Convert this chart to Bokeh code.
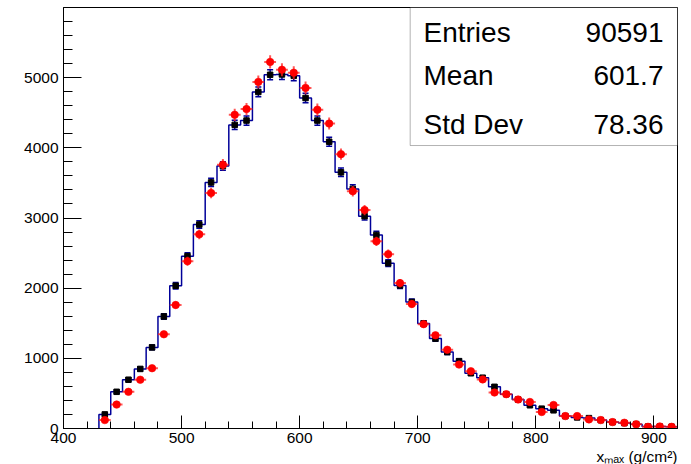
import numpy as np
from bokeh.plotting import figure
from bokeh.models import Range1d, FixedTicker, BoxAnnotation, Label, ColumnDataSource, Whisker, Title
from bokeh.embed import file_html
from bokeh.resources import INLINE

# ---------------- data ----------------
bin_low = 430
bin_width = 10
bin_centers = [435, 445, 455, 465, 475, 485, 495, 505, 515, 525, 535, 545, 555, 565, 575,
               585, 595, 605, 615, 625, 635, 645, 655, 665, 675, 685, 695, 705, 715, 725,
               735, 745, 755, 765, 775, 785, 795, 805, 815, 825, 835, 845, 855, 865, 875,
               885, 895, 905, 915]
hist_counts = [201, 523, 695, 849, 1156, 1597, 2034, 2456, 2907, 3507, 3741, 4327, 4389, 4796, 5041,
               5046, 5026, 4710, 4389, 4087, 3651, 3415, 3026, 2759, 2356, 2039, 1803, 1497, 1281, 1089,
               960, 787, 724, 594, 489, 413, 331, 283, 259, 177, 158, 148, 120, 91, 77,
               62, 27, 27, 25]
red_counts = [120, 341, 523, 695, 859, 1343, 1760, 2384, 2767, 3357, 3760, 4471, 4552, 4940, 5224,
              5113, 5070, 4854, 4543, 4346, 3910, 3382, 3113, 2667, 2485, 2072, 1774, 1487, 1328, 1122,
              911, 816, 700, 513, 489, 413, 378, 235, 335, 177, 177, 130, 120, 91, 82,
              60, 24, 29, 24]
x_ticks = [400, 500, 600, 700, 800, 900]
y_ticks = [0, 1000, 2000, 3000, 4000, 5000]
stats_names = ["Entries", "Mean", "Std Dev"]
stats_values = ["90591", "601.7", "78.36"]
x_title = "x\u2098\u2090\u2093 (g/cm\u00b2)"

FONT = "Liberation Sans"
BLUE = "#000099"

xc = np.array(bin_centers, dtype=float)
hc = np.array(hist_counts, dtype=float)
rc = np.array(red_counts, dtype=float)
he = np.sqrt(hc)
re_ = np.sqrt(rc)

p = figure(width=691, height=464, output_backend="svg", toolbar_location=None,
           x_range=Range1d(400, 920), y_range=Range1d(0, 6000),
           min_border_left=63, min_border_right=14, min_border_top=7, min_border_bottom=0)
p.background_fill_color = "white"
p.border_fill_color = "white"
p.outline_line_color = "black"
p.outline_line_width = 1
p.xgrid.visible = False
p.ygrid.visible = False

p.xaxis.ticker = FixedTicker(ticks=x_ticks, minor_ticks=list(range(400, 921, 20)))
p.yaxis.ticker = FixedTicker(ticks=y_ticks, minor_ticks=list(range(0, 6001, 200)))
for ax in (p.xaxis[0], p.yaxis[0]):
    ax.major_tick_out = 0
    ax.minor_tick_out = 0
    ax.axis_line_color = "black"
    ax.major_tick_line_color = "black"
    ax.minor_tick_line_color = "black"
    ax.major_label_text_font = FONT
    ax.major_label_text_font_size = "15.5px"
    ax.major_label_text_color = "black"
p.xaxis.major_tick_in = 13
p.xaxis.minor_tick_in = 7
p.yaxis.major_tick_in = 18
p.yaxis.minor_tick_in = 9
p.xaxis.major_label_standoff = 4
p.yaxis.major_label_standoff = 5

p.add_layout(Title(text=x_title, align="right", text_font=FONT, text_font_size="15.5px",
                   text_font_style="normal", text_color="black", standoff=0), "below")

# histogram outline
edges = list(bin_low + bin_width * np.arange(len(bin_centers) + 1))
step_x = [edges[0]] + edges
step_y = [0] + list(hc) + [hc[-1]]
p.step(step_x, step_y, mode="after", line_color=BLUE, line_width=1.5)

# black histogram errors
src_b = ColumnDataSource(dict(x=xc, y=hc, lo=hc - he, hi=hc + he))
wb = Whisker(source=src_b, base="x", lower="lo", upper="hi", line_color=BLUE, line_width=1.5)
wb.lower_head.size = 6
wb.upper_head.size = 6
wb.lower_head.line_color = BLUE
wb.upper_head.line_color = BLUE
wb.lower_head.line_width = 1.5
wb.upper_head.line_width = 1.5
p.add_layout(wb)
p.scatter(xc, hc, marker="square", size=5.5, fill_color="black", line_color="black")

# red points
src_r = ColumnDataSource(dict(x=xc, y=rc, lo=rc - re_ * 1.3, hi=rc + re_ * 1.3,
                              xl=xc - bin_width / 2, xh=xc + bin_width / 2))
p.segment(x0="x", y0="lo", x1="x", y1="hi", source=src_r, line_color="#ff2020", line_alpha=0.75, line_width=2)
p.segment(x0="xl", y0="y", x1="xh", y1="y", source=src_r, line_color="#ff2020", line_alpha=0.75, line_width=2)
p.scatter(xc, rc, marker="circle", size=7.5, fill_color="#ff0000", line_color="#ff0000", line_alpha=0.6)

# stats box
p.add_layout(BoxAnnotation(left=693.6, right=920, top=6000, bottom=4033, fill_color="white", fill_alpha=1.0,
                           line_color="black", line_width=1))
row_base = [5650, 5030, 4330]
for name, val, yb in zip(stats_names, stats_values, row_base):
    p.add_layout(Label(x=704.9, y=yb, text=name, text_font=FONT, text_font_size="28px",
                       text_baseline="alphabetic", text_align="left", text_color="black"))
    p.add_layout(Label(x=908.1, y=yb, text=val, text_font=FONT, text_font_size="28px",
                       text_baseline="alphabetic", text_align="right", text_color="black"))

open("out.html", "w").write(file_html(p, INLINE))
